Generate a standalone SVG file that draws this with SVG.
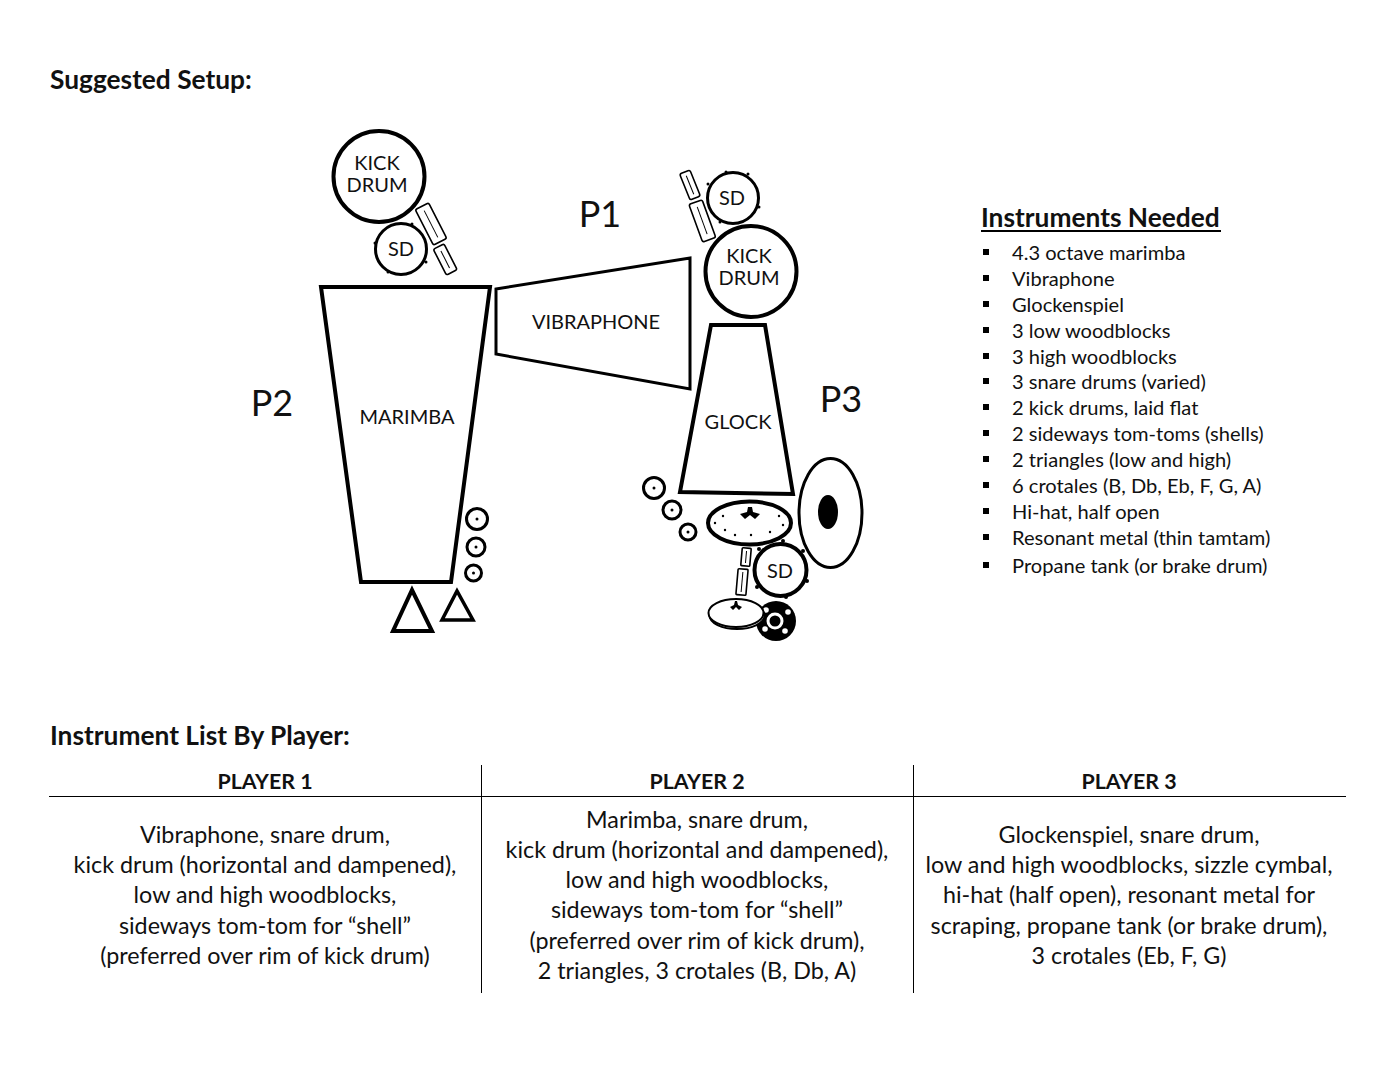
<svg xmlns="http://www.w3.org/2000/svg" width="1391" height="1071" viewBox="0 0 1391 1071">
<style>
text{font-family:Lato,"Liberation Sans",sans-serif;fill:#111}
.h{font-size:26.3px;font-weight:700}
.l{font-size:20.1px}
.c{font-size:23.3px;text-anchor:middle}
.th{font-size:21.4px;font-weight:700;text-anchor:middle}
.n{font-size:20px;text-anchor:middle}
.p{font-size:36px;text-anchor:middle}
.o{fill:#fff;stroke:#000;stroke-width:4}
.o3{fill:#fff;stroke:#000;stroke-width:3}
.t{fill:#fff;stroke:#000;stroke-width:1.6}
.ln{stroke:#000;stroke-width:1;fill:none}
.d{fill:#000}
</style>
<rect width="1391" height="1071" fill="#fff"/>
<text class="h" x="50" y="89">Suggested Setup:</text>
<text class="h" x="50" y="745">Instrument List By Player:</text>

<g id="kick-p2"><circle class="o" cx="379" cy="176.500" r="45.500"/><text class="n"><tspan x="377" y="170">KICK</tspan><tspan x="377" y="192">DRUM</tspan></text></g>
<g id="sd-p2"><circle class="o3" cx="401" cy="249" r="25.500"/><circle class="d" cx="375" cy="243" r="1.500"/><circle class="d" cx="388" cy="272" r="1.500"/><circle class="d" cx="426" cy="262" r="1.500"/><circle class="d" cx="412" cy="224" r="1.500"/><text class="n" x="401" y="256">SD</text></g>
<g id="tom-p2"><g transform="rotate(-27 431 224)"><rect class="t" x="423.500" y="204" width="15" height="40" rx="2"/><line class="ln" x1="431" y1="209" x2="431" y2="239"/></g><g transform="rotate(-27 445 259)"><rect class="t" x="439" y="245" width="12" height="29" rx="2"/><line class="ln" x1="445" y1="250" x2="445" y2="269"/></g></g>
<g id="marimba"><path class="o" d="M321 287H490L451 582H361Z"/><text class="n" x="407" y="424">MARIMBA</text></g>
<g id="vibraphone"><path class="o3" d="M496 289L690 258V389L496 354Z"/><text class="n" x="596" y="329">VIBRAPHONE</text></g>
<g id="sd-p1"><circle class="o3" cx="733" cy="198" r="25.500"/><circle class="d" cx="708" cy="184" r="1.500"/><circle class="d" cx="726" cy="172" r="1.500"/><circle class="d" cx="748" cy="174" r="1.500"/><circle class="d" cx="759" cy="207" r="1.500"/><circle class="d" cx="720" cy="222" r="1.500"/><text class="n" x="732" y="205">SD</text></g>
<g id="tom-p1"><g transform="rotate(-22 690 185)"><rect class="t" x="684.500" y="171" width="11" height="28" rx="2"/><line class="ln" x1="690" y1="175" x2="690" y2="195"/></g><g transform="rotate(-20 702 220)"><rect class="t" x="695" y="201" width="14" height="40" rx="2"/><line class="ln" x1="702" y1="206" x2="702" y2="235"/></g></g>
<g id="kick-p1"><circle class="o" cx="751" cy="271.500" r="45.500"/><text class="n"><tspan x="749" y="263">KICK</tspan><tspan x="749" y="285">DRUM</tspan></text></g>
<g id="glock"><path class="o" d="M711 325H765L793 494L680 492Z"/><text class="n" x="738" y="429">GLOCK</text></g>
<g id="metal"><ellipse class="o3" cx="830.500" cy="513" rx="31.500" ry="54.500"/><ellipse class="d" cx="828" cy="512" rx="10" ry="17"/></g>
<g id="crotales-p2"><circle class="o3" cx="477" cy="519" r="10.500"/><circle class="d" cx="477" cy="519" r="1.500"/><circle class="o3" cx="476" cy="547" r="9"/><circle class="d" cx="476" cy="547" r="1.500"/><circle class="o3" cx="473.500" cy="573" r="8"/><circle class="d" cx="473.500" cy="573" r="1.500"/></g>
<g id="triangles"><path class="o" d="M432 631H393L412 590Z"/><path fill="#fff" stroke="#000" stroke-width="3.500" d="M473 620H442L457 591Z"/></g>
<g id="crotales-p3"><circle class="o3" cx="654" cy="488" r="10.500"/><circle class="d" cx="654" cy="488" r="1.500"/><circle class="o3" cx="672" cy="510" r="9"/><circle class="d" cx="672" cy="510" r="1.500"/><circle class="o3" cx="688" cy="532" r="8"/><circle class="d" cx="688" cy="532" r="1.500"/></g>
<g id="sizzle-cymbal"><ellipse class="o" cx="749.500" cy="523" rx="41.500" ry="21.500"/><path class="d" d="M748 507L752 507L753 512L760 514L755 519L750 515L745 519L740 514L747 512Z"/>
<g class="d"><circle cx="723" cy="516" r="1.200"/><circle cx="715" cy="523" r="1.200"/><circle cx="725" cy="530" r="1.200"/><circle cx="735" cy="535" r="1.200"/><circle cx="751" cy="535" r="1.200"/><circle cx="770" cy="532" r="1.200"/><circle cx="783" cy="525" r="1.200"/><circle cx="779" cy="516" r="1.200"/></g></g>
<g id="tom-p3"><g transform="rotate(5 746 557)"><rect class="t" x="741.500" y="548" width="9" height="18" rx="1"/><line class="ln" x1="746" y1="551" x2="746" y2="563"/></g><g transform="rotate(5 742 582)"><rect class="t" x="737" y="569" width="10" height="26" rx="1"/><line class="ln" x1="742" y1="572" x2="742" y2="592"/></g></g>
<g id="sd-p3"><circle class="o" cx="780.500" cy="570" r="26"/><circle class="d" cx="759" cy="549" r="2"/><circle class="d" cx="783" cy="541" r="2"/><circle class="d" cx="803" cy="551" r="2"/><circle class="d" cx="807" cy="581" r="2"/><circle class="d" cx="786" cy="597" r="2"/><circle class="d" cx="757" cy="587" r="2"/><text class="n" x="780" y="578">SD</text></g>
<g id="propane-tank"><circle class="d" cx="776" cy="621" r="20"/><circle fill="none" stroke="#fff" stroke-width="3" cx="775" cy="621" r="7"/><g fill="#fff"><circle cx="788" cy="612" r="2.800"/><circle cx="785" cy="631" r="2.800"/><circle cx="765" cy="629" r="2.800"/><circle cx="766" cy="610" r="2.800"/></g></g>
<g id="hi-hat"><ellipse fill="#fff" stroke="#000" stroke-width="2" cx="737" cy="615.500" rx="27.500" ry="13.500"/><ellipse fill="#fff" stroke="#000" stroke-width="2" cx="736" cy="613" rx="27.500" ry="14"/><path class="d" d="M735 601L737 601L738 605L742 607L739 610L736 607L733 610L730 607L734 605Z"/></g>

<text class="p" x="600" y="227">P1</text>
<text class="p" x="272" y="416">P2</text>
<text class="p" x="841" y="412">P3</text>

<g id="instruments-needed">
<text class="h" x="981" y="227">Instruments Needed</text>
<line x1="981" y1="231" x2="1221" y2="231" stroke="#000" stroke-width="2"/>
<g class="d"><rect x="983" y="249" width="6" height="6"/><rect x="983" y="275" width="6" height="6"/><rect x="983" y="301" width="6" height="6"/><rect x="983" y="327" width="6" height="6"/><rect x="983" y="353" width="6" height="6"/><rect x="983" y="378" width="6" height="6"/><rect x="983" y="404" width="6" height="6"/><rect x="983" y="430" width="6" height="6"/><rect x="983" y="456" width="6" height="6"/><rect x="983" y="482" width="6" height="6"/><rect x="983" y="508" width="6" height="6"/><rect x="983" y="534" width="6" height="6"/><rect x="983" y="562" width="6" height="6"/></g>
<text class="l" x="1012" y="260">4.3 octave marimba</text>
<text class="l" x="1012" y="286">Vibraphone</text>
<text class="l" x="1012" y="312">Glockenspiel</text>
<text class="l" x="1012" y="338">3 low woodblocks</text>
<text class="l" x="1012" y="364">3 high woodblocks</text>
<text class="l" x="1012" y="389">3 snare drums (varied)</text>
<text class="l" x="1012" y="415">2 kick drums, laid flat</text>
<text class="l" x="1012" y="441">2 sideways tom-toms (shells)</text>
<text class="l" x="1012" y="467">2 triangles (low and high)</text>
<text class="l" x="1012" y="493">6 crotales (B, Db, Eb, F, G, A)</text>
<text class="l" x="1012" y="519">Hi-hat, half open</text>
<text class="l" x="1012" y="545">Resonant metal (thin tamtam)</text>
<text class="l" x="1012" y="573">Propane tank (or brake drum)</text>
</g>

<g id="table">
<path d="M49 796.500H1346M481.500 765V993M913.500 765V993" stroke="#000" stroke-width="1" fill="none"/>
<text class="th" x="265" y="789">PLAYER 1</text>
<text class="th" x="697" y="789">PLAYER 2</text>
<text class="th" x="1129" y="789">PLAYER 3</text>
<text class="c" x="265" y="843">Vibraphone, snare drum,</text>
<text class="c" x="265" y="873">kick drum (horizontal and dampened),</text>
<text class="c" x="265" y="903">low and high woodblocks,</text>
<text class="c" x="265" y="934">sideways tom-tom for “shell”</text>
<text class="c" x="265" y="964">(preferred over rim of kick drum)</text>
<text class="c" x="697" y="828">Marimba, snare drum,</text>
<text class="c" x="697" y="858">kick drum (horizontal and dampened),</text>
<text class="c" x="697" y="888">low and high woodblocks,</text>
<text class="c" x="697" y="918">sideways tom-tom for “shell”</text>
<text class="c" x="697" y="949">(preferred over rim of kick drum),</text>
<text class="c" x="697" y="979">2 triangles, 3 crotales (B, Db, A)</text>
<text class="c" x="1129" y="843">Glockenspiel, snare drum,</text>
<text class="c" x="1129" y="873">low and high woodblocks, sizzle cymbal,</text>
<text class="c" x="1129" y="903">hi-hat (half open), resonant metal for</text>
<text class="c" x="1129" y="934">scraping, propane tank (or brake drum),</text>
<text class="c" x="1129" y="964">3 crotales (Eb, F, G)</text>
</g>
</svg>
